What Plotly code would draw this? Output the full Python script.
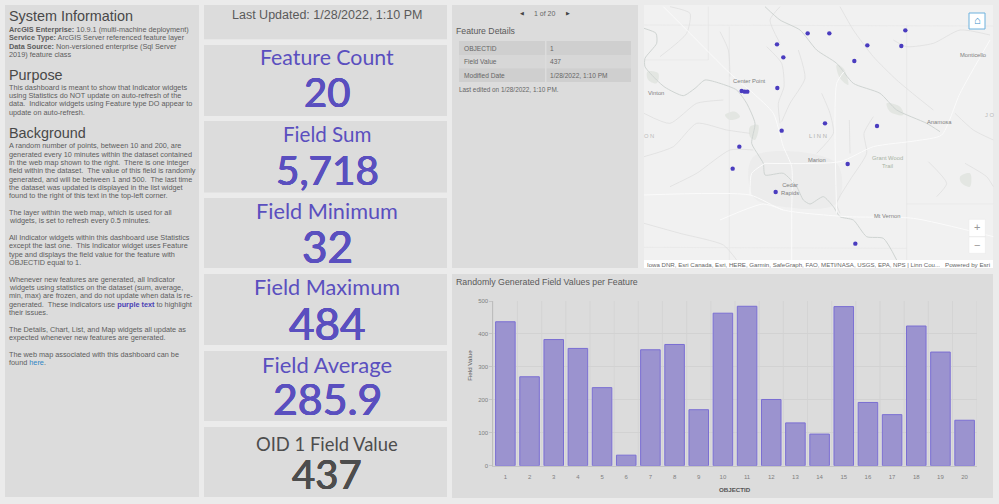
import plotly.graph_objects as go

W, H = 999, 504
object_ids = list(range(1, 21))
field_values = [437, 270, 383, 356, 237, 32, 352, 368, 170, 463, 484, 201, 130, 96, 483, 192, 155, 424, 345, 138]
y_ticks = [0, 100, 200, 300, 400, 500]

# map points, in map-image units
map_x = [503, 568, 796, 411, 682, 784, 430, 643, 412, 305, 314, 322, 555, 711, 425, 298, 278, 623, 407, 646]
map_y = [100, 100, 91, 133, 136, 138, 172, 183, 264, 273, 275, 275, 370, 378, 392, 440, 506, 492, 576, 731]

rivers_main = [
    [(12,85),(48,100),(50,130),(15,175),(15,200),(50,240),(75,262),(130,287),(165,265),(195,240),(240,250),(290,270),(320,310),(345,370),(335,430),(355,465),(370,490),(375,525),(430,520),(470,560),(490,600),(510,612),(550,590),(580,620),(600,650),(640,660),(680,710),(730,715),(770,780)],
    [(375,20),(420,60),(480,90),(530,150),(590,190),(640,250),(720,280),(770,330),(860,370),(900,395)],
]
rivers_thin = [
    [(380,140),(425,190),(432,260),(415,310),(420,370)],
    [(475,150),(495,235),(450,310),(425,365)],
    [(545,280),(570,340),(580,400),(530,460)],
    [(628,360),(630,460)],
    [(700,350),(672,400),(680,460),(630,540),(590,610),(600,640)],
    [(12,340),(90,370),(170,310),(250,300)],
    [(12,470),(100,440),(170,370),(260,390),(330,400)],
    [(90,560),(170,520),(270,450),(340,450)],
    [(600,20),(640,90),(700,170),(770,240),(830,290),(880,330)],
    [(240,95),(265,150),(270,230)],
    [(760,120),(800,140),(880,130),(960,90),(1050,105)],
    [(945,340),(1000,390),(1060,420)],
    [(865,485),(920,550),(890,590)],
    [(975,490),(1040,530),(1060,560)],
    [(12,670),(120,700),(250,735),(290,780)],
    [(90,20),(150,40),(140,100),(60,170)],
    [(420,130),(390,60),(420,20)],
]
roads = [
    [(70,20),(150,100),(270,220),(340,280),(400,340),(430,440),(455,500),(455,640),(455,780)],
    [(12,585),(330,585),(430,630),(620,650),(820,655),(1060,710)],
    [(375,490),(600,485),(700,440),(830,422),(905,405),(960,280),(1050,120)],
    [(330,585),(335,520),(375,490)],
    [(590,640),(590,250),(612,215)],
    [(430,630),(370,612),(240,660)],
]
section_lines = [
    [(12,75),(1060,78)],
    [(205,20),(205,180),(12,180)],
    [(268,80),(268,780)],
    [(800,75),(800,780)],
    [(800,612),(1060,612)],
    [(12,742),(800,745)],
]
green_blobs = [
    [(255,345),(285,335),(300,350),(270,360)],
    [(740,310),(780,320),(790,345),(750,335)],
    [(330,380),(355,375),(345,420),(330,410)],
    [(960,530),(990,520),(990,560),(965,550)],
    [(22,215),(55,220),(50,250),(25,240)],
    [(590,195),(610,205),(625,255),(600,235)],
]
urban_blobs = [
    [(340,470),(590,490),(590,610),(430,620),(340,590)],
]
map_labels = [
    ("Center Point",328,243,"#808080"),("Vinton",47,279,"#808080"),("Monticello",1000,165,"#808080"),
    ("Anamosa",897,365,"#808080"),("L I N N",533,409,"#b0b0b0"),("Marion",532,480,"#808080"),
    ("Grant Wood<br>Trail",743,487,"#a8b2a3"),("Cedar<br>Rapids",449,567,"#808080"),("Mt Vernon",740,649,"#808080"),
    ("O N",27,407,"#bbbbbb"),("J O",1049,345,"#bbbbbb"),
]

left_text = [
    ("System Information",16,"h"),
    ("<b>ArcGIS Enterprise:</b> 10.9.1 (multi-machine deployment)",29.3,"p"),
    ("<b>Service Type:</b> ArcGIS Server referenced feature layer",37.7,"p"),
    ("<b>Data Source:</b> Non-versioned enterprise (Sql Server",46,"p"),
    ("2019) feature class",54.3,"p"),
    ("Purpose",75,"h"),
    ("This dashboard is meant to show that Indicator widgets",87.3,"p"),
    ("using Statistics do NOT update on auto-refresh of the",95.7,"p"),
    ("data.  Indicator widgets using Feature type DO appear to",104,"p"),
    ("update on auto-refresh.",112.3,"p"),
    ("Background",132.7,"h"),
    ("A random number of points, between 10 and 200, are",145.7,"p"),
    ("generated every 10 minutes within the dataset contained",154,"p"),
    ("in the web map shown to the right.  There is one integer",162.3,"p"),
    ("field within the dataset.  The value of this field is randomly",170.7,"p"),
    ("generated, and will be between 1 and 500.  The last time",179,"p"),
    ("the dataset was updated is displayed in the list widget",187.3,"p"),
    ("found to the right of this text in the top-left corner.",195.7,"p"),
    ("The layer within the web map, which is used for all",212.3,"p"),
    ("widgets, is set to refresh every 0.5 minutes.",220.7,"p"),
    ("All Indicator widgets within this dashboard use Statistics",237.3,"p"),
    ("except the last one.  This Indicator widget uses Feature",245.7,"p"),
    ("type and displays the field value for the feature with",254,"p"),
    ("OBJECTID equal to 1.",262.3,"p"),
    ("Whenever new features are generated, all Indicator",279,"p"),
    ("widgets using statistics on the dataset (sum, average,",287.3,"p"),
    ("min, max) are frozen, and do not update when data is re-",295.7,"p"),
    ("generated.  These indicators use <b><span style='color:#4a3fb5'>purple text</span></b> to highlight",304,"p"),
    ("their issues.",312.3,"p"),
    ("The Details, Chart, List, and Map widgets all update as",329,"p"),
    ("expected whenever new features are generated.",337.3,"p"),
    ("The web map associated with this dashboard can be",354,"p"),
    ("found <span style='color:#2f86c5'>here</span>.",362.3,"p"),
]

# title, value, panel top, panel bottom, colour, title offset, value offset, title size, value size
indicators = [
    ("Feature Count","20",45,116,"#5a4fbf",12,46.8,21.3,40),
    ("Field Sum","5,718",121,192.5,"#5a4fbf",13,48.5,20.6,40.4),
    ("Field Minimum","32",198,268,"#5a4fbf",12.5,47.5,21.7,44),
    ("Field Maximum","484",274,345,"#5a4fbf",12.5,48.5,21.7,44),
    ("Field Average","285.9",351,421,"#5a4fbf",13,47,22,42.8),
    ("OID 1 Field Value","437",427,497,"#4d4d4d",17,47,18.4,40),
]

details_rows = [("OBJECTID","1"),("Field Value","437"),("Modified Date","1/28/2022, 1:10 PM")]

PANEL = "#dcdcdc"
PAGE = "#ebebeb"
FONT = "Liberation Sans"
IND_FONT = "Lato"
px = lambda x: x / W
py = lambda y: 1 - y / H
shapes, ann = [], []

def rect(x0, y0, x1, y1, fill, line=None, lw=0):
    shapes.append(dict(type="rect", xref="paper", yref="paper", x0=px(x0), x1=px(x1), y0=py(y1), y1=py(y0),
                       fillcolor=fill, line=dict(color=line or fill, width=lw), layer="below"))

def text(s, x, y, size, color, anchor="left", family=FONT, shadow=None):
    f = dict(family=family, size=size, color=color)
    if shadow:
        f["shadow"] = shadow
    ann.append(dict(text=s, x=px(x), y=py(y), xref="paper", yref="paper", showarrow=False, xanchor=anchor,
                    yanchor="middle", align=anchor, borderpad=0, font=f))

for p in [(5,5,199,497),(204,5,447,39.3),(452,5,638,268),(452,274,993,498)]:
    rect(*p, PANEL)
rect(644, 5, 993, 268, "#f1f1f1")

for s, y, kind in left_text:
    if kind == "h":
        text(s, 7.5, y, 14.4, "#484848")
    else:
        text(s, 7.5, y, 7.3, "#5c5c5c")

text("Last Updated: 1/28/2022, 1:10 PM", 327, 15.3, 12.5, "#5a5a5a", "center")
for title, val, y0, y1, c, t_off, v_off, t_size, v_size in indicators:
    rect(204, y0, 447, y1, PANEL)
    text(title, 327, y0 + t_off, t_size, c, "center", IND_FONT)
    text(val, 327, y0 + v_off, v_size, c, "center", IND_FONT,
         shadow=f"0.5px 0 0 {c}, -0.5px 0 0 {c}, 0 0.3px 0 {c}, 0 -0.3px 0 {c}")

# details panel
text("◀", 521.5, 12.5, 5, "#444444", "center")
text("1 of 20", 545, 13, 7, "#666666", "center")
text("▶", 568, 12.5, 5, "#444444", "center")
text("Feature Details", 454.5, 30.5, 8.7, "#5a5a5a")
row_y = [41, 55, 68.3, 82]
for i, (k, v) in enumerate(details_rows):
    rect(459, row_y[i], 631, row_y[i+1], "#cfcfcf" if i % 2 == 0 else "#d7d7d7")
    text(k, 462.5, (row_y[i]+row_y[i+1])/2, 6.6, "#666666")
    text(v, 549, (row_y[i]+row_y[i+1])/2, 6.6, "#666666")
rect(545, 41, 546.5, 82, "#dcdcdc")
text("Last edited on 1/28/2022, 1:10 PM.", 457.5, 89, 6.4, "#666666")

# chart panel text
text("Randomly Generated Field Values per Feature", 454.5, 282, 8.8, "#5a5a5a")
text("<b>OBJECTID</b>", 735, 489, 6.2, "#555555", "center")
ann.append(dict(text="Field Value", x=px(469.3), y=py(383), xref="paper", yref="paper", showarrow=False, textangle=-90,
                font=dict(family=FONT, size=6.2, color="#555555")))

def poly(lines, color, width):
    xs, ys = [], []
    for l in lines:
        xs += [p[0] for p in l] + [None]
        ys += [p[1] for p in l] + [None]
    return go.Scatter(x=xs, y=ys, mode="lines", xaxis="x2", yaxis="y2", hoverinfo="skip", showlegend=False,
                      line=dict(color=color, width=width, shape="spline", smoothing=0.6))

def blob(lines, color):
    tr = []
    for l in lines:
        tr.append(go.Scatter(x=[p[0] for p in l]+[l[0][0]], y=[p[1] for p in l]+[l[0][1]], mode="lines", fill="toself",
                             fillcolor=color, line=dict(width=0, color=color, shape="spline"), xaxis="x2", yaxis="y2",
                             hoverinfo="skip", showlegend=False))
    return tr

data = []
data += blob(urban_blobs, "#ececec") + blob(green_blobs, "#e3e6e2")
data.append(go.Scatter(x=sum([[p[0] for p in l]+[None] for l in section_lines], []),
                       y=sum([[p[1] for p in l]+[None] for l in section_lines], []), mode="lines", xaxis="x2", yaxis="y2",
                       hoverinfo="skip", showlegend=False, line=dict(color="#e6e6e6", width=0.7)))
data.append(poly(rivers_thin, "#dcdcdc", 0.7))
data.append(poly(rivers_main, "#cfd4d2", 1))
data.append(poly(roads, "#fbfbfb", 1))
data.append(go.Scatter(x=map_x, y=map_y, mode="markers", xaxis="x2", yaxis="y2", showlegend=False,
                       marker=dict(size=4.4, color="#4a3cbf")))

for s, x, y, c in map_labels:
    ann.append(dict(text=s, x=x, y=y, xref="x2", yref="y2", showarrow=False, font=dict(family=FONT, size=5.8, color=c)))

# chart: white halo then bars
data.append(go.Bar(x=object_ids, y=field_values, width=0.85, marker=dict(color="#e8e8f0", line=dict(width=0)),
                   hoverinfo="skip", showlegend=False))
data.append(go.Bar(x=object_ids, y=field_values, width=0.81, showlegend=False,
                   marker=dict(color="#9b93cf", line=dict(color="#7a6ed2", width=1))))

for e in range(0, 21):
    shapes.append(dict(type="line", xref="x", yref="y", x0=e+0.5, x1=e+0.5, y0=0, y1=500, layer="below",
                       line=dict(color="#d2d2d2", width=0.8)))

# map overlays (drawn above)
def top_rect(x0, y0, x1, y1, fill, line=None, lw=0):
    shapes.append(dict(type="rect", xref="paper", yref="paper", x0=px(x0), x1=px(x1), y0=py(y1), y1=py(y0),
                       fillcolor=fill, line=dict(color=line or fill, width=lw), layer="above"))
top_rect(644, 260, 993, 268, "#ffffff")
top_rect(969, 13, 985, 29, "#ffffff", "#6db1dd", 1)
top_rect(969, 219.3, 985.3, 236.5, "#ffffff", "#e8e8e8", 0.5)
top_rect(969, 236.9, 985.3, 253.3, "#ffffff", "#e8e8e8", 0.5)
text("⌂", 977, 20.5, 11, "#3a8fc9", "center")
text("+", 977, 227.5, 11, "#999999", "center")
text("−", 977, 244.5, 11, "#999999", "center")
text("Iowa DNR, Esri Canada, Esri, HERE, Garmin, SafeGraph, FAO, METI/NASA, USGS, EPA, NPS | Linn Cou...", 645.5, 264, 6.1, "#666666")
text("Powered by Esri", 990.5, 264, 6.2, "#666666", "right")

fig = go.Figure(data)
axis_font = dict(family=FONT, size=6, color="#808080")
fig.update_layout(
    width=W, height=H, margin=dict(l=0, r=0, t=0, b=0, pad=0, autoexpand=False), autosize=False,
    paper_bgcolor=PAGE, plot_bgcolor="rgba(0,0,0,0)", barmode="overlay", showlegend=False,
    shapes=shapes, annotations=ann,
    xaxis=dict(domain=[px(493.3), px(976.7)], range=[0.5, 20.5], tickvals=object_ids, ticktext=[str(i) for i in object_ids],
               showgrid=False, zeroline=False, showline=True, linecolor="#c4c4c4", linewidth=0.8, ticks="", ticklabelstandoff=5,
               tickfont=axis_font, anchor="y"),
    yaxis=dict(domain=[py(465.7), py(301)], range=[0, 500], tickvals=y_ticks, showgrid=True, gridcolor="#d2d2d2", gridwidth=0.8,
               zeroline=False, showline=True, linecolor="#bdbdbd", linewidth=0.8, ticks="outside", ticklen=3,
               tickcolor="#c4c4c4", tickwidth=0.6, tickfont=axis_font, anchor="x"),
    xaxis2=dict(domain=[640/W, 1], range=[0, 1077], visible=False, fixedrange=True, anchor="y2"),
    yaxis2=dict(domain=[py(275), 1], range=[825, 0], visible=False, fixedrange=True, anchor="x2"),
)
fig.write_html("out.html", config=dict(displayModeBar=False),
               post_script="document.body.style.margin='0';document.body.style.overflow='hidden';")
